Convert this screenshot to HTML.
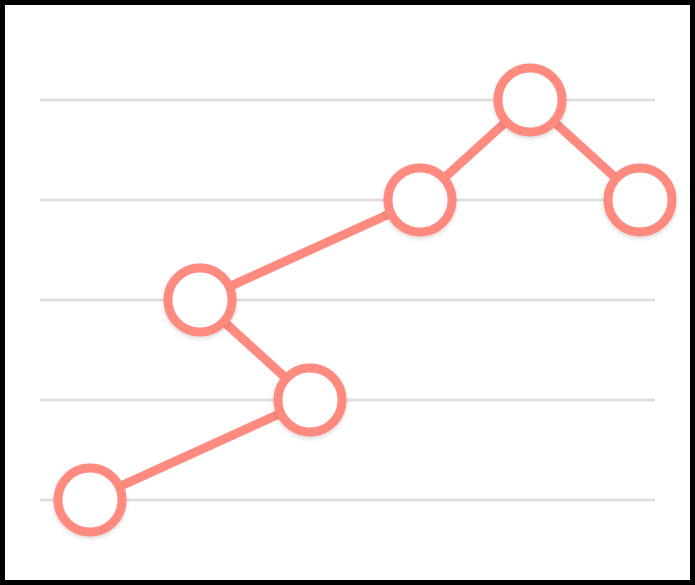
<!DOCTYPE html>
<html>
<head>
<meta charset="utf-8">
<style>
  html,body{margin:0;padding:0;background:#fff;}
  body{width:695px;height:585px;overflow:hidden;font-family:"Liberation Sans",sans-serif;}
  #frame{position:absolute;left:0;top:0;width:685px;height:575px;border:5px solid #000;background:#fff;}
  svg{position:absolute;left:0;top:0;}
</style>
</head>
<body>
<div id="frame"></div>
<svg id="chart" width="695" height="585">
  <defs>
    <filter id="sh" x="-30%" y="-30%" width="160%" height="160%">
      <feDropShadow dx="0" dy="2" stdDeviation="2" flood-color="#000" flood-opacity="0.15"/>
    </filter>
  </defs>
  <g id="grid"></g>
  <g id="lines"></g>
  <g id="points"></g>
</svg>
<script>
// points in drawing order (x index, y value)
const xValues = [0, 2, 1, 3, 4, 5];
const yValues = [0, 1, 2, 3, 4, 3];
const gridTicks = [0, 1, 2, 3, 4];

const NS = "http://www.w3.org/2000/svg";
function xScale(i){ return 90 + 110 * i; }
function yScale(v){ return 500 - 100 * v; }
const color = "#ff8a80";

const grid = document.getElementById("grid");
gridTicks.forEach(t => {
  const l = document.createElementNS(NS, "line");
  l.setAttribute("x1", 40); l.setAttribute("x2", 655);
  l.setAttribute("y1", yScale(t)); l.setAttribute("y2", yScale(t));
  l.setAttribute("stroke", "#e0e0e0"); l.setAttribute("stroke-width", 3);
  
  
  grid.appendChild(l);
});

const lines = document.getElementById("lines");
const pl = document.createElementNS(NS, "polyline");
pl.setAttribute("points", xValues.map((x,i) => xScale(x) + "," + yScale(yValues[i])).join(" "));
pl.setAttribute("fill", "none");
pl.setAttribute("stroke", color);
pl.setAttribute("stroke-width", 9);


lines.appendChild(pl);

const pts = document.getElementById("points");
xValues.forEach((x,i) => {
  const c = document.createElementNS(NS, "circle");
  c.setAttribute("cx", xScale(x)); c.setAttribute("cy", yScale(yValues[i]));
  c.setAttribute("r", 32);
  c.setAttribute("fill", "#fff");
  c.setAttribute("stroke", color);
  c.setAttribute("stroke-width", 9);
  c.setAttribute("filter", "url(#sh)");
  
  
  pts.appendChild(c);
});
</script>
</body>
</html>
